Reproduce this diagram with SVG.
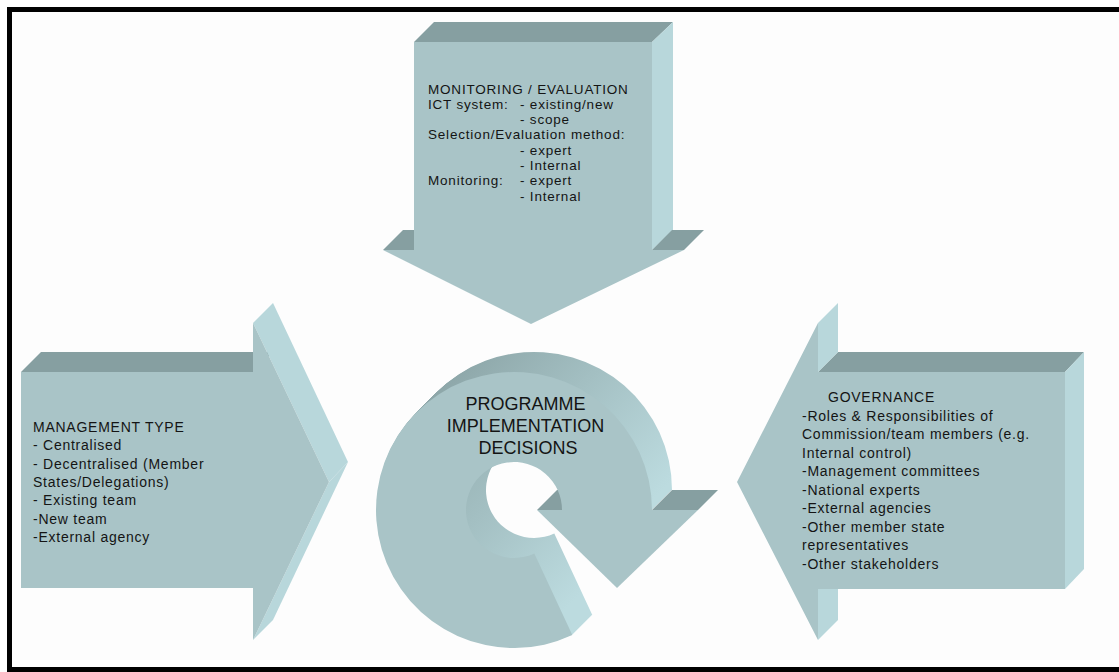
<svg xmlns="http://www.w3.org/2000/svg" width="1119" height="672" viewBox="0 0 1119 672">
<defs>
<style>
.front{fill:#a9c4c7}
.top{fill:#869fa1}
.side{fill:#b8d7db}
.txt{font-family:"Liberation Sans",Arial,sans-serif;fill:#141414}
.small{font-size:13.5px;letter-spacing:0.8px}
.mid{font-size:14px;letter-spacing:0.75px}
.big{font-size:18px;text-anchor:middle}
.border{fill:#000}
</style>
<linearGradient id="ringSide" gradientUnits="userSpaceOnUse" x1="420" y1="380" x2="620" y2="540">
<stop offset="0" stop-color="#8aa3a5"/>
<stop offset="1" stop-color="#bcdbdf"/>
</linearGradient>
<path id="ring" d="M572.3 635.1 A138 138 0 1 1 652 510 L562 510 A48 48 0 1 0 534.3 553.5 Z"/>
</defs>
<rect width="1119" height="672" fill="#fdfdfd"/>
<g id="frame">
<rect class="border" x="7" y="7" width="1112" height="5"/>
<rect class="border" x="7" y="7" width="5" height="665"/>
<rect class="border" x="7" y="667" width="1112" height="5"/>
</g>
<g id="connectors"/>
<g id="monitoring">
<polygon class="top" points="414,42 434,22 673,22 652,42"/>
<polygon class="side" points="652,42 673,22 673,230 652,250"/>
<polygon class="top" points="383,250 403,230 434,230 414,250"/>
<polygon class="top" points="652,250 672,230 704,230 684,250"/>
<polygon class="front" points="414,42 652,42 652,250 684,250 531,324 383,250 414,250"/>
<text class="txt small">
<tspan x="428" y="93.5">MONITORING / EVALUATION</tspan>
<tspan x="428" y="108.8">ICT system:</tspan><tspan x="520" y="108.8">- existing/new</tspan>
<tspan x="520" y="124.1">- scope</tspan>
<tspan x="428" y="139.4">Selection/Evaluation method:</tspan>
<tspan x="520" y="154.7">- expert</tspan>
<tspan x="520" y="170">- Internal</tspan>
<tspan x="428" y="185.3">Monitoring:</tspan><tspan x="520" y="185.3">- expert</tspan>
<tspan x="520" y="200.6">- Internal</tspan>
</text>
</g>
<g id="management">
<polygon class="top" points="21,372 41,352 273,352 253,372"/>
<polygon class="side" points="253,323 273,303 348,462 329,482"/>
<polygon class="side" points="329,482 348,462 273,620 253,640"/>
<polygon class="front" points="21,372 253,372 253,323 329,482 253,640 253,588 21,588"/>
<text class="txt mid">
<tspan x="33" y="432">MANAGEMENT TYPE</tspan>
<tspan x="33" y="450.3">- Centralised</tspan>
<tspan x="33" y="468.6">- Decentralised (Member</tspan>
<tspan x="33" y="486.9">States/Delegations)</tspan>
<tspan x="33" y="505.2">- Existing team</tspan>
<tspan x="33" y="523.5">-New team</tspan>
<tspan x="33" y="541.8">-External agency</tspan>
</text>
</g>
<g id="governance">
<polygon class="top" points="818,372 838,352 1084,352 1065,372"/>
<polygon class="side" points="1065,372 1084,352 1084,569 1065,589"/>
<polygon class="side" points="818,323 838,303 838,352 818,372"/>
<polygon class="side" points="818,588 838,568 838,620 818,640"/>
<polygon class="front" points="737,482 818,323 818,372 1065,372 1065,589 818,589 818,640"/>
<text class="txt mid">
<tspan x="828" y="402">GOVERNANCE</tspan>
<tspan x="802" y="420.5">-Roles &amp; Responsibilities of</tspan>
<tspan x="802" y="439">Commission/team members (e.g.</tspan>
<tspan x="802" y="457.5">Internal control)</tspan>
<tspan x="802" y="476">-Management committees</tspan>
<tspan x="802" y="494.5">-National experts</tspan>
<tspan x="802" y="513">-External agencies</tspan>
<tspan x="802" y="531.5">-Other member state</tspan>
<tspan x="802" y="550">representatives</tspan>
<tspan x="802" y="568.5">-Other stakeholders</tspan>
</text>
</g>
<g id="programme">
<g fill="url(#ringSide)">
<use href="#ring" transform="translate(20,-20)"/>
<use href="#ring" transform="translate(19,-19)"/>
<use href="#ring" transform="translate(18,-18)"/>
<use href="#ring" transform="translate(17,-17)"/>
<use href="#ring" transform="translate(16,-16)"/>
<use href="#ring" transform="translate(15,-15)"/>
<use href="#ring" transform="translate(14,-14)"/>
<use href="#ring" transform="translate(13,-13)"/>
<use href="#ring" transform="translate(12,-12)"/>
<use href="#ring" transform="translate(11,-11)"/>
<use href="#ring" transform="translate(10,-10)"/>
<use href="#ring" transform="translate(9,-9)"/>
<use href="#ring" transform="translate(8,-8)"/>
<use href="#ring" transform="translate(7,-7)"/>
<use href="#ring" transform="translate(6,-6)"/>
<use href="#ring" transform="translate(5,-5)"/>
<use href="#ring" transform="translate(4,-4)"/>
<use href="#ring" transform="translate(3,-3)"/>
<use href="#ring" transform="translate(2,-2)"/>
<use href="#ring" transform="translate(1,-1)"/>
</g>
<polygon class="top" points="537,510 557,490 582,490 562,510"/>
<polygon class="top" points="652,510 672,490 718,490 698,510"/>
<use href="#ring" class="front"/>
<polygon class="front" points="537,510 698,510 617,588"/>
<text class="txt big">
<tspan x="528" y="410">PROGRAMME</tspan>
<tspan x="528" y="432">IMPLEMENTATION</tspan>
<tspan x="528" y="454">DECISIONS</tspan>
</text>
</g>
</svg>
